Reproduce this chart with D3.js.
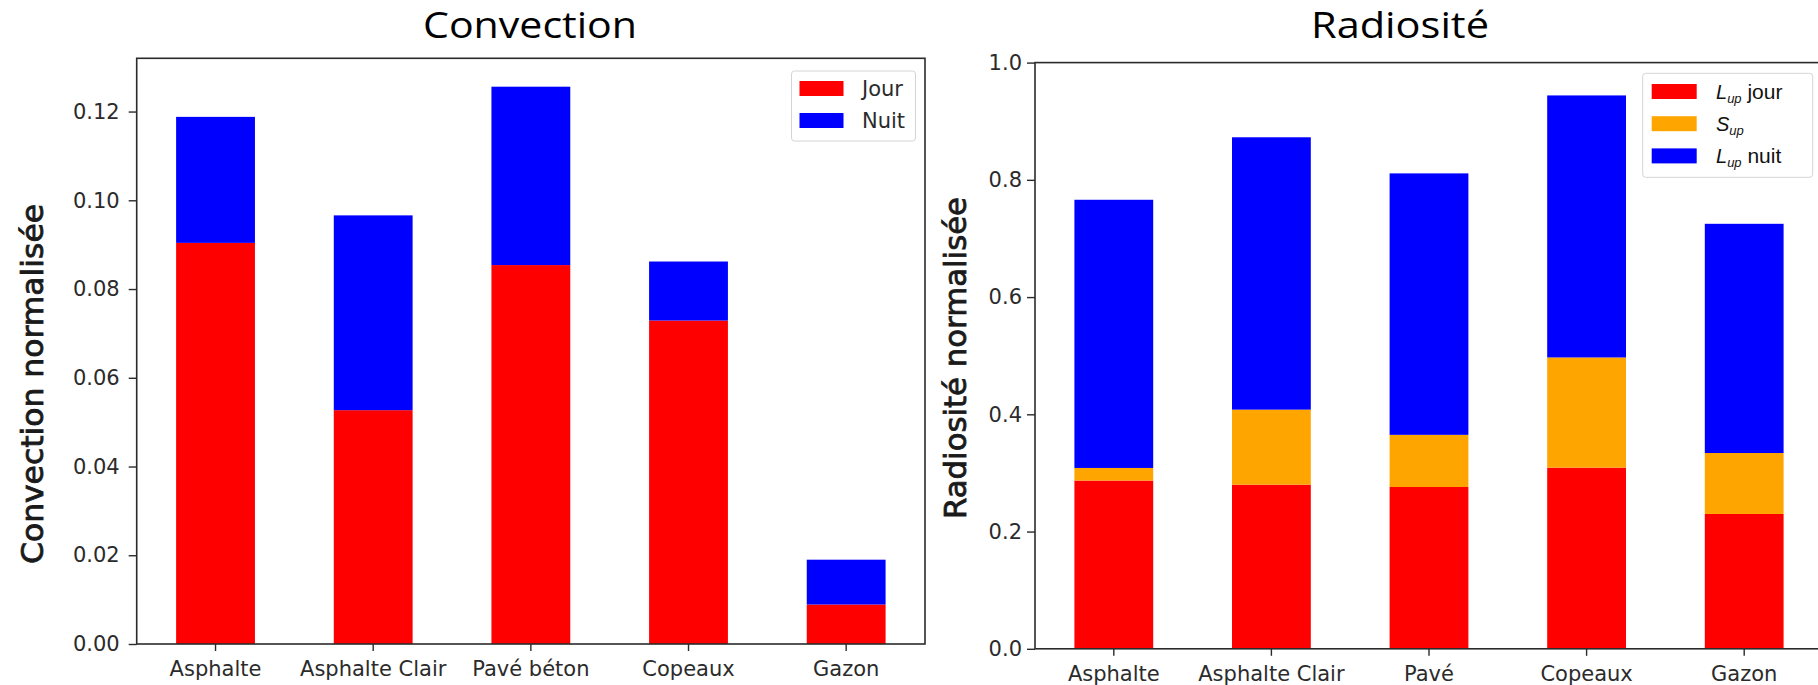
<!DOCTYPE html>
<html>
<head>
<meta charset="utf-8">
<script src="https://cdn.jsdelivr.net/npm/d3@7/dist/d3.min.js"></script>
<style>
  html, body { margin: 0; padding: 0; background: #fff; }
  svg { display: block; }
</style>
</head>
<body>
<svg id="fig" width="1818" height="685"></svg>
<script>
// Surfaces compared in both panels
const convCategories = ["Asphalte", "Asphalte Clair", "Pavé béton", "Copeaux", "Gazon"];
const radCategories  = ["Asphalte", "Asphalte Clair", "Pavé", "Copeaux", "Gazon"];

// Normalised convection, stacked: day part then night part
const convJour = [0.0904, 0.0527, 0.0854, 0.0729, 0.0089];
const convNuit = [0.0284, 0.0439, 0.0402, 0.0133, 0.0101];

// Normalised radiosity, stacked: L_up day, S_up, L_up night
const radLupJour = [0.287, 0.280, 0.276, 0.309, 0.230];
const radSup     = [0.0215, 0.128, 0.089, 0.188, 0.104];
const radLupNuit = [0.4575, 0.4646, 0.446, 0.447, 0.391];

const convTicks = [0, 0.02, 0.04, 0.06, 0.08, 0.10, 0.12];
const radTicks  = [0, 0.2, 0.4, 0.6, 0.8, 1.0];

const RED = "#ff0000", BLUE = "#0000ff", ORANGE = "#ffa500";
const INK = "#2b2b2b";
const TICK_FONT = "'DejaVu Sans', sans-serif";

const svg = d3.select("#fig");

function panel(opts) {
  const g = svg.append("g");
  const x = d3.scaleBand()
    .domain(opts.categories)
    .range([opts.left, opts.right])
    .paddingInner(0.5)
    .paddingOuter(0.25);
  const y = d3.scaleLinear().domain(opts.yDomain).range([opts.bottom, opts.top]);

  // stacked bars
  const stack = d3.stack().keys(opts.series.map((s, i) => i));
  const rows = opts.categories.map((c, j) => {
    const r = { cat: c };
    opts.series.forEach((s, i) => { r[i] = s.values[j]; });
    return r;
  });
  const layers = stack(rows);
  layers.forEach((layer, i) => {
    g.append("g").selectAll("rect").data(layer).join("rect")
      .attr("x", d => x(d.data.cat))
      .attr("width", x.bandwidth())
      .attr("y", d => y(d[1]))
      .attr("height", d => y(d[0]) - y(d[1]))
      .attr("fill", opts.series[i].color);
  });

  // frame
  g.append("rect")
    .attr("x", opts.left).attr("y", opts.top)
    .attr("width", opts.right - opts.left).attr("height", opts.bottom - opts.top)
    .attr("fill", "none").attr("stroke", INK).attr("stroke-width", 1.6);

  // axes
  const ya = g.append("g").attr("transform", `translate(${opts.left},0)`)
    .call(d3.axisLeft(y).tickValues(opts.ticks).tickFormat(d3.format(opts.fmt))
      .tickSize(8).tickPadding(opts.yPad));
  const xa = g.append("g").attr("transform", `translate(0,${opts.bottom})`)
    .call(d3.axisBottom(x).tickSize(7).tickPadding(10));
  [ya, xa].forEach(a => {
    a.select(".domain").remove();
    a.selectAll(".tick line").attr("stroke", INK).attr("stroke-width", 1.4);
    a.selectAll(".tick text").attr("fill", INK)
      .style("font-family", TICK_FONT).style("font-size", "21px");
  });

  // title
  g.append("text")
    .attr("x", opts.titleX).attr("y", 37.5)
    .attr("text-anchor", "middle")
    .attr("textLength", opts.titleLen).attr("lengthAdjust", "spacingAndGlyphs")
    .style("font-family", "'Open Sans', 'Noto Sans', sans-serif")
    .style("font-weight", "400")
    .style("font-size", "36px").attr("fill", "#000")
    .text(opts.title);

  // y label (regular face, lightly stroked for a medium weight)
  g.append("text")
    .attr("transform", `translate(${opts.ylabX},${opts.ylabY}) rotate(-90)`)
    .attr("text-anchor", "middle")
    .attr("textLength", opts.ylabLen).attr("lengthAdjust", "spacingAndGlyphs")
    .style("font-family", TICK_FONT).style("font-size", "30px")
    .attr("fill", "#1a1a1a")
    .attr("stroke", "#1a1a1a").attr("stroke-width", 0.8)
    .text(opts.ylabel);

  return { g, x, y };
}

// ---- Convection ----
const conv = panel({
  categories: convCategories,
  left: 136.7, right: 925, top: 58.3, bottom: 644,
  yDomain: [0, 0.132], ticks: convTicks, fmt: ".2f", yPad: 9,
  series: [ { values: convJour, color: RED }, { values: convNuit, color: BLUE } ],
  title: "Convection", titleX: 530, titleLen: 214,
  ylabel: "Convection normalisée", ylabX: 43, ylabY: 384, ylabLen: 360
});

// legend
{
  const lg = conv.g.append("g");
  lg.append("rect").attr("x", 791.5).attr("y", 71).attr("width", 124).attr("height", 70)
    .attr("rx", 3).attr("fill", "#fff").attr("fill-opacity", 0.8)
    .attr("stroke", "#d4d4d4").attr("stroke-width", 1);
  const items = [ ["Jour", RED], ["Nuit", BLUE] ];
  items.forEach(([t, c], i) => {
    lg.append("rect").attr("x", 799.5).attr("y", 81 + i * 32).attr("width", 44).attr("height", 15)
      .attr("fill", c);
    lg.append("text").attr("x", 862).attr("y", 96 + i * 32)
      .style("font-family", TICK_FONT).style("font-size", "21px").attr("fill", INK)
      .text(t);
  });
}

// ---- Radiosité ----
const rad = panel({
  categories: radCategories,
  left: 1035, right: 1823, top: 62.6, bottom: 648.8,
  yDomain: [0, 1.0], ticks: radTicks, fmt: ".1f", yPad: 5,
  series: [
    { values: radLupJour, color: RED },
    { values: radSup, color: ORANGE },
    { values: radLupNuit, color: BLUE }
  ],
  title: "Radiosité", titleX: 1400, titleLen: 178,
  ylabel: "Radiosité normalisée", ylabX: 966, ylabY: 358, ylabLen: 322
});

// legend with subscripted symbols
{
  const lg = rad.g.append("g");
  lg.append("rect").attr("x", 1642.7).attr("y", 73.3).attr("width", 170).attr("height", 104)
    .attr("rx", 3).attr("fill", "#fff").attr("fill-opacity", 0.8)
    .attr("stroke", "#d4d4d4").attr("stroke-width", 1);
  const items = [
    { sym: "L", sub: "up", rest: " jour", color: RED },
    { sym: "S", sub: "up", rest: "", color: ORANGE },
    { sym: "L", sub: "up", rest: " nuit", color: BLUE }
  ];
  items.forEach((it, i) => {
    const y0 = 84 + i * 32.2;
    lg.append("rect").attr("x", 1651.7).attr("y", y0).attr("width", 45).attr("height", 15)
      .attr("fill", it.color);
    const t = lg.append("text").attr("x", 1716).attr("y", y0 + 15)
      .style("font-family", "'Liberation Sans', Arial, sans-serif")
      .style("font-size", "20px").attr("fill", "#111");
    t.append("tspan").style("font-style", "italic").text(it.sym);
    t.append("tspan").style("font-style", "italic").style("font-size", "13px")
      .attr("dy", 4).text(it.sub);
    if (it.rest) {
      t.append("tspan").attr("dy", -4).style("font-size", "21px").text(it.rest);
    }
  });
}
</script>
</body>
</html>
